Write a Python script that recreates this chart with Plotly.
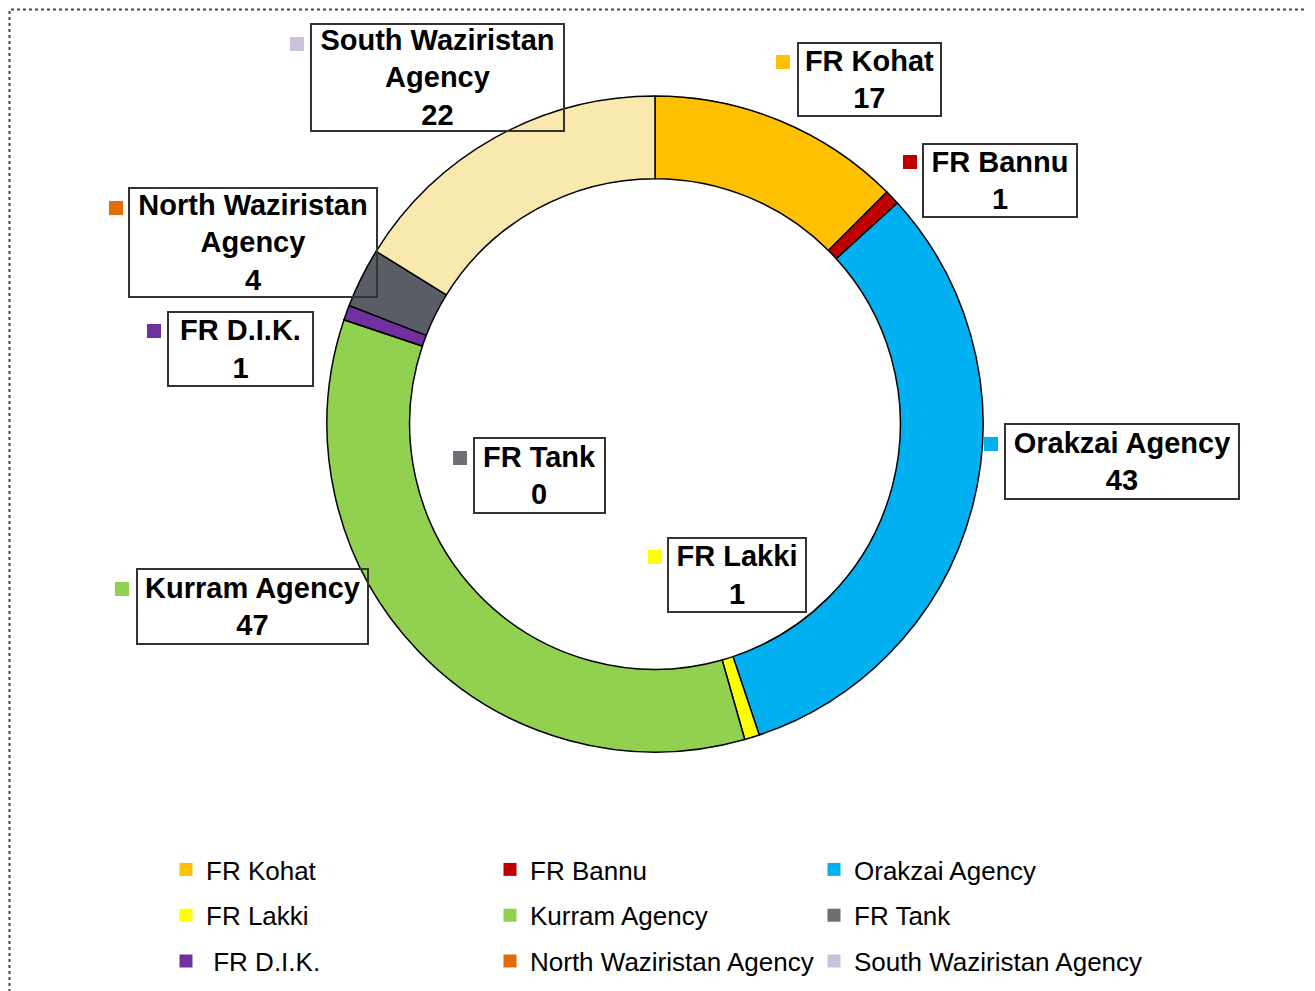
import plotly.graph_objects as go

# ---------------- data ----------------
categories = ["FR Kohat", "FR Bannu", "Orakzai Agency", "FR Lakki", "Kurram Agency",
              "FR Tank", "FR D.I.K.", "North Waziristan Agency", "South Waziristan Agency"]
values = [17, 1, 43, 1, 47, 0, 1, 4, 22]
slice_colors = ["#FFC000", "#C00000", "#00B0F0", "#FFFF00", "#92D050",
                "#6D6F74", "#7030A0", "#5A5D65", "#F9E9AE"]
legend_colors = ["#FFC000", "#C00000", "#00B0F0", "#FFFF00", "#92D050",
                 "#6D6F74", "#7030A0", "#E36C09", "#CCC1DA"]
legend_names = ["FR Kohat", "FR Bannu", "Orakzai Agency", "FR Lakki", "Kurram Agency",
                "FR Tank", " FR D.I.K.", "North Waziristan Agency", "South Waziristan Agency"]

# ---------------- layout helpers (page pixel -> paper) ----------------
W, H = 1315, 991
OFF = 8  # default body margin of the page
def px(x):
    return (x - OFF) / W
def py(y):
    return 1 - (y - OFF) / H

CX, CY, R = 655, 424, 328

# label boxes (left, top, right, bottom) and key squares (left, top) in pixels
label_boxes = {
    "FR Kohat": (797, 42, 942, 117),
    "FR Bannu": (922, 143, 1078, 218),
    "Orakzai Agency": (1004, 423, 1240, 500),
    "FR Lakki": (667, 537, 807, 613),
    "Kurram Agency": (136, 568, 369, 645),
    "FR Tank": (473, 437, 606, 514),
    "FR D.I.K.": (167, 311, 314, 387),
    "North Waziristan Agency": (128, 187, 378, 298),
    "South Waziristan Agency": (310, 23, 565, 132),
}
label_keys = {
    "FR Kohat": (776, 55),
    "FR Bannu": (903, 155),
    "Orakzai Agency": (984, 437),
    "FR Lakki": (648, 550),
    "Kurram Agency": (115, 582),
    "FR Tank": (453, 451),
    "FR D.I.K.": (147, 324),
    "North Waziristan Agency": (109, 201),
    "South Waziristan Agency": (290, 37),
}
KEY = 14

fig = go.Figure()

fig.add_trace(go.Pie(
    labels=categories, values=values, hole=0.748, sort=False,
    direction="clockwise", rotation=0,
    marker=dict(colors=slice_colors, line=dict(color="black", width=1.5)),
    textinfo="none", hoverinfo="label+value", showlegend=False,
    domain=dict(x=[px(CX - R), px(CX + R)], y=[py(CY + R), py(CY - R)]),
))

legend_ids = ["legend", "legend2", "legend3"]
for i, name in enumerate(legend_names):
    fig.add_trace(go.Scatter(
        x=[None], y=[None], mode="markers", name=name,
        marker=dict(symbol="square", size=13, color=legend_colors[i]),
        legend=legend_ids[i % 3], legendgroup=str(i), hoverinfo="skip",
    ))

annotations = []
shapes = []
for name, val, col in zip(categories, values, legend_colors):
    l, t, r, b = label_boxes[name]
    txt = name.replace("Waziristan Agency", "Waziristan<br>Agency")
    annotations.append(dict(
        x=px((l + r) / 2), y=py((t + b) / 2), xref="paper", yref="paper",
        xanchor="center", yanchor="middle",
        text=f"<b>{txt}<br>{val}</b>", showarrow=False,
        width=r - l - 4, height=b - t - 4, align="center", valign="middle",
        borderwidth=2, borderpad=0, bordercolor="#333333", bgcolor="rgba(0,0,0,0)",
        font=dict(family="Liberation Sans", size=29, color="black"),
    ))
    kx, ky = label_keys[name]
    shapes.append(dict(
        type="rect", xref="paper", yref="paper",
        x0=px(kx), x1=px(kx + KEY), y0=py(ky + KEY), y1=py(ky),
        fillcolor=col, line=dict(width=0), layer="above",
    ))

# dotted outer frame of the chart area
shapes.append(dict(
    type="rect", xref="paper", yref="paper",
    x0=px(9.5), x1=px(1312), y0=py(997), y1=py(9.5),
    line=dict(color="#444444", width=2, dash="dot"), fillcolor="rgba(0,0,0,0)",
    layer="above",
))

legend_common = dict(
    xanchor="left", yanchor="top", orientation="v",
    font=dict(family="Liberation Sans", size=26, color="black"),
    bgcolor="rgba(0,0,0,0)", tracegroupgap=9, itemclick=False, itemdoubleclick=False,
)
fig.update_layout(
    width=W, height=H,
    margin=dict(l=0, r=0, t=0, b=0),
    paper_bgcolor="white", plot_bgcolor="white",
    xaxis=dict(visible=False), yaxis=dict(visible=False),
    legend=dict(x=px(166), y=py(846), **legend_common),
    legend2=dict(x=px(490), y=py(846), **legend_common),
    legend3=dict(x=px(814), y=py(846), **legend_common),
    annotations=annotations, shapes=shapes,
    showlegend=True,
)

fig.write_html("out.html")
